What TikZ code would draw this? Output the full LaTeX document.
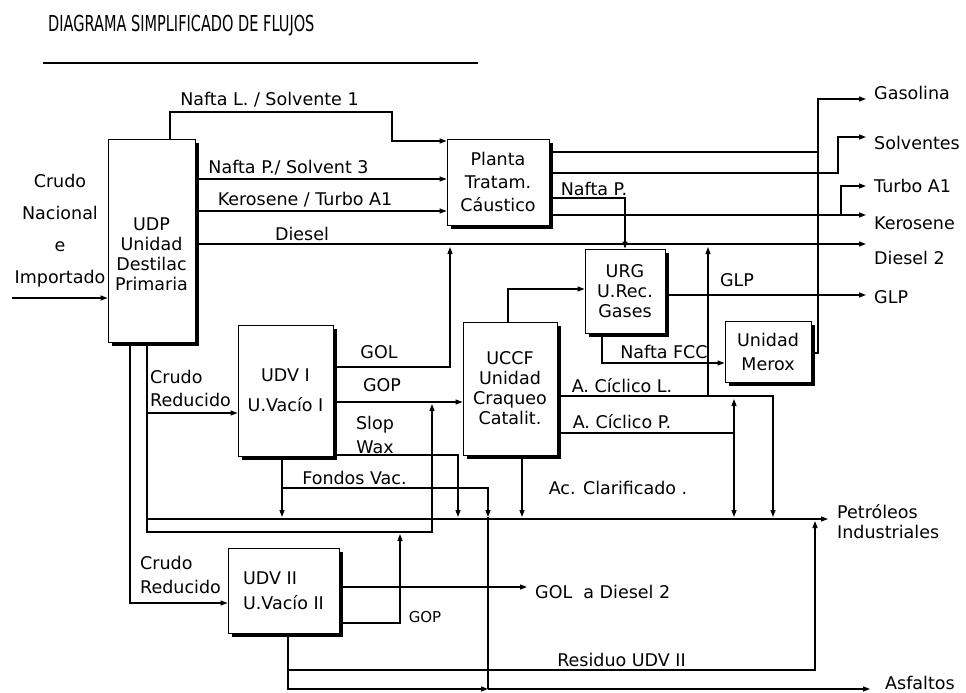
\documentclass[tikz,border=0pt]{standalone}
\usepackage{fontspec}
\setmainfont{DejaVu Sans}
\newfontfamily\titlefont[FakeStretch=0.66]{DejaVu Sans}
\usetikzlibrary{arrows.meta}
\newcommand{\lblfont}{\fontsize{17.5}{20}\selectfont}

\begin{document}
\begin{tikzpicture}[x=1pt,y=-1pt,
    unit/.style={draw,line width=0.9pt,fill=white,inner sep=0pt,align=center,font=\lblfont,
      preaction={fill=black,transform canvas={shift={(3.5pt,-3.5pt)}}}},
    lbl/.style={font=\lblfont,inner sep=0pt,align=left},
    outlbl/.style={lbl,anchor=west,inner xsep=8pt},
    pipe/.style={line width=1.2pt},
    flow/.style={pipe,-{Triangle[length=7pt,width=5pt]}}]
  \useasboundingbox (0,0) rectangle (966,693);

  % Title
  \node[font=\titlefont\fontsize{22}{24}\selectfont,anchor=west,inner sep=0pt] (titulo) at (48,26) {DIAGRAMA SIMPLIFICADO DE FLUJOS};
  \coordinate (reglaA) at (43,63);
  \coordinate (reglaB) at (478,63);
  \draw[line width=2pt] (reglaA) -- (reglaB);

  % Units
  \node[unit,minimum width=87pt,minimum height=203pt,
    label={[name=udptxt,font=\lblfont,align=center,yshift=-14pt]center:UDP\\Unidad\\Destilac\\Primaria}]
    (udp) at (151.5,240.5) {};
  \node[unit,minimum width=102pt,minimum height=86pt] (planta) at (498,182) {Planta\\[3pt]Tratam.\\[3pt]Cáustico};
  \node[unit,minimum width=80pt,minimum height=84pt] (urg) at (625,291) {URG\\U.Rec.\\Gases};
  \node[unit,minimum width=86pt,minimum height=61pt] (merox) at (768,351.5) {Unidad\\[4pt]Merox};
  \node[unit,minimum width=94pt,minimum height=133pt] (uccf) at (510,388.5) {UCCF\\Unidad\\Craqueo\\Catalit.};
  \node[unit,minimum width=95pt,minimum height=131pt] (udvi) at (285.5,390.5) {UDV I\\[10pt]U.Vacío I};
  \node[unit,minimum width=111pt,minimum height=85pt,align=left] (udvii) at (283.5,590.5) {UDV II\\[5pt]U.Vacío II};

  % Products
  \node[outlbl] (gasolina) at (866,93) {Gasolina};
  \node[outlbl] (solventes) at (866,143) {Solventes};
  \node[outlbl] (turbo) at (866,186) {Turbo A1};
  \node[outlbl] (kerosene) at (866,223) {Kerosene};
  \node[outlbl] (diesel2) at (866,258) {Diesel 2};
  \node[outlbl] (glp) at (866,297) {GLP};
  \node[outlbl,inner xsep=9pt] (petroleos) at (828,522) {Petróleos\\Industriales};
  \node[outlbl,inner xsep=15pt] (asfaltos) at (870,683) {Asfaltos};

  % Feed
  \node[lbl,align=center] (crudo) at (60,230.5) {Crudo\\[12pt]Nacional\\[12pt]e\\[12pt]Importado};
  \coordinate (entrada) at (12,298);
  \draw[flow] (entrada) -- (udp.west |- entrada);

  % Primary distillation
  \draw[flow] (udp.north -| 170,0) -- (170,112) -- (392,112) -- (392,141) -- (planta.west |- 0,141);
  \node[lbl] (naftal) at (269.5,100) {Nafta L. / Solvente 1};
  \draw[flow] (udp.east |- 0,179) -- (planta.west |- 0,179);
  \node[lbl] (naftap) at (288.5,168) {Nafta P./ Solvent 3};
  \draw[flow] (udp.east |- 0,211) -- (planta.west |- 0,211);
  \node[lbl] (kero) at (305,200) {Kerosene / Turbo A1};
  \draw[flow] (udp.east |- 0,244) -- (diesel2.west |- 0,244);
  \node[lbl] (diesel) at (302,234) {Diesel};

  % Caustic treatment
  \coordinate (jgas) at (818,152);
  \draw[flow] (planta.east |- jgas) -- (jgas) -- (818,99) -- (gasolina.west |- 0,99);
  \draw[flow] (planta.east |- 0,173) -- (838,173) -- (838,137) -- (solventes.west |- 0,137);
  \draw[flow] (planta.east |- 0,198) -- (625,198) -- (urg.north -| 625,0);
  \node[lbl] (naftapp) at (594,189) {Nafta P.};
  \coordinate (jkero) at (841,215);
  \draw[flow] (planta.east |- jkero) -- (kerosene.west |- jkero);
  \draw[flow] (jkero) -- (841,186) -- (turbo.west |- 0,186);

  % Gas recovery and Merox
  \draw[flow] (uccf.north -| 508,0) -- (508,289) -- (urg.west |- 0,289);
  \draw[flow] (urg.east |- 0,295) -- (glp.west |- 0,295);
  \node[lbl] (glplbl) at (737,280) {GLP};
  \draw[flow] (urg.south -| 602,0) -- (602,363) -- (merox.west |- 0,363);
  \node[lbl] (naftafcc) at (664,352) {Nafta FCC};
  \draw[pipe] (merox.east |- 0,353) -- (818,353) -- (jgas);

  % Vacuum unit I
  \coordinate (golup) at (450,247);
  \draw[flow] (udvi.east |- 0,367) -- (golup |- 0,367) -- (golup);
  \node[lbl] (gol) at (379,352) {GOL};
  \draw[flow] (udvi.east |- 0,402) -- (uccf.west |- 0,402);
  \node[lbl] (gop) at (382,385) {GOP};
  \coordinate (slopdn) at (458,517);
  \draw[flow] (udvi.east |- 0,455) -- (slopdn |- 0,455) -- (slopdn);
  \node[lbl,align=center] (slop) at (375,435) {Slop\\[4pt]Wax};
  \coordinate (fvdn) at (282,517);
  \coordinate (fvjct) at (282,488);
  \draw[flow] (udvi.south -| fvdn) -- (fvdn);
  \draw[flow] (fvjct) -- (488,488) -- (488,517);
  \node[lbl] (fondos) at (354.5,478) {Fondos Vac.};

  % Catalytic cracking
  \draw[flow] (uccf.south -| 522,0) -- (522,517);
  \node[lbl] (acclar) at (618,488) {Ac. Clarificado .};
  \coordinate (acl) at (773,396);
  \draw[flow] (uccf.east |- acl) -- (acl) -- (773,517);
  \node[lbl] (acllbl) at (622,386) {A. Cíclico L.};
  \coordinate (acp) at (734,433);
  \draw[flow] (uccf.east |- acp) -- (acp) -- (734,517);
  \draw[flow] (acp) -- (734,399);
  \node[lbl] (acplbl) at (622,422) {A. Cíclico P.};
  \coordinate (acldsl) at (708,396);
  \draw[flow] (acldsl) -- (708,247);

  % Reduced crude
  \coordinate (jpi) at (147,519);
  \draw[flow] (jpi) -- (petroleos.west |- jpi);
  \coordinate (cr1) at (147,413);
  \draw[flow] (udp.south -| cr1) -- (147,532) -- (432,532) -- (432,404);
  \draw[flow] (cr1) -- (udvi.west |- cr1);
  \node[lbl,anchor=west] (crudo1) at (150,388.5) {Crudo\\[3pt]Reducido};
  \coordinate (cr2) at (130,603);
  \draw[flow] (udp.south -| cr2) -- (cr2) -- (udvii.west |- cr2);
  \node[lbl,anchor=west] (crudo2) at (140,575) {Crudo\\[4pt]Reducido};

  % Vacuum unit II
  \node[outlbl] (goldsl) at (527,592) {GOL\ \ a Diesel 2};
  \draw[flow] (udvii.east |- 0,587) -- (goldsl.west |- 0,587);
  \draw[flow] (udvii.east |- 0,623) -- (400,623) -- (400,534);
  \node[lbl,font=\fontsize{15}{18}\selectfont] (gop2) at (425,617) {GOP};
  \coordinate (resjct) at (288,670);
  \coordinate (asfjct) at (488,689);
  \draw[flow] (udvii.south -| resjct) -- (288,689) -- (asfjct);
  \draw[flow] (asfjct) -- (asfaltos.west |- asfjct);
  \draw[pipe] (488,517) -- (asfjct);
  \draw[flow] (resjct) -- (815,670) -- (815,521);
  \node[lbl] (residuo) at (621.5,660) {Residuo UDV II};
\end{tikzpicture}
\end{document}
